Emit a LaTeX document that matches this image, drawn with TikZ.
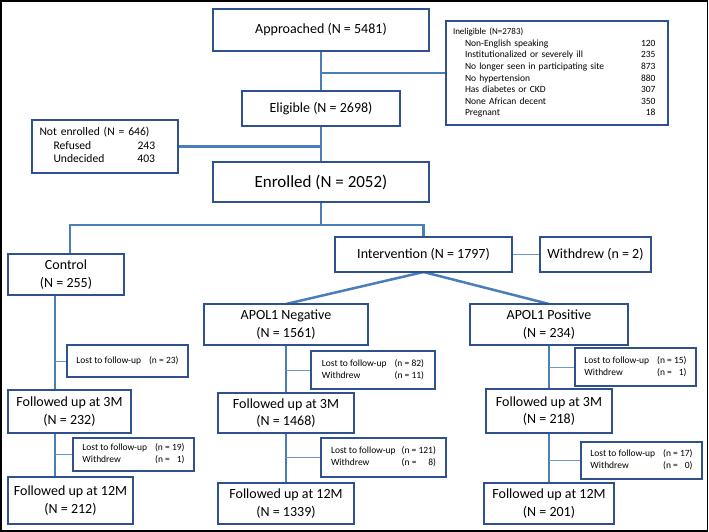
\documentclass[tikz,border=0pt]{standalone}
\usepackage{fontspec}
\setmainfont{Carlito}
\usepackage{xcolor}
\usetikzlibrary{positioning,backgrounds}

\definecolor{boxblue}{RGB}{47,82,143}
\definecolor{lineblue}{RGB}{74,126,187}

\begin{document}
\begin{tikzpicture}[x=1pt, y=1pt,
    box/.style={draw=boxblue, line width=1.8pt, fill=white, align=center, inner sep=2pt, outer sep=0pt,
        font=\fontsize{14pt}{17.5pt}\selectfont},
    lostbox/.style={draw=boxblue, line width=1.8pt, fill=white, inner sep=2pt, outer sep=0pt, minimum width=121pt,
        font=\fontsize{9.5pt}{11.7pt}\selectfont},
    trunk/.style={draw=lineblue, line width=2.5pt},
    branch/.style={draw=lineblue!80, line width=1pt}]

    % Frame
    \useasboundingbox (0,0) rectangle (709,-532);
    \draw[line width=1.8pt] (1,-1) rectangle (707.5,-531);

    % Screening
    \node[box, minimum width=216pt, minimum height=42pt] (approached) at (321,-30) {Approached (N = 5481)};
    \node[box, below=40pt of approached, minimum width=158pt, minimum height=35pt] (eligible) {Eligible (N = 2698)};
    \node[box, right=17pt of approached.north east, anchor=north west, yshift=-12pt, text width=208pt, inner xsep=7pt,
        minimum height=104pt, align=left, font=\fontsize{9.5pt}{11.6pt}\selectfont] (ineligible) {%
        \begin{tabular}{@{\hspace{12pt}}p{176pt}@{}r@{}}
        \multicolumn{2}{@{}l@{}}{\fontsize{9pt}{11.6pt}\selectfont Ineligible (N=2783)}\\
        Non-English speaking & 120\\
        Institutionalized or severely ill & 235\\
        No longer seen in participating site & 873\\
        No hypertension & 880\\
        Has diabetes or CKD & 307\\
        None African decent & 350\\
        Pregnant & 18
        \end{tabular}};
    \node[box, left=64pt of eligible.west, yshift=-38pt, text width=131pt, inner xsep=7.5pt, minimum height=53pt,
        align=left, font=\fontsize{11.6pt}{13.7pt}\selectfont] (notenrolled) {%
        \begin{tabular}{@{\hspace{14pt}}p{84pt}@{}r@{}}
        \multicolumn{2}{@{}l@{}}{Not enrolled (N = 646)}\\
        Refused & 243\\
        Undecided & 403
        \end{tabular}};
    \node[box, below=36pt of eligible, minimum width=216pt, minimum height=40pt,
        font=\fontsize{17pt}{20pt}\selectfont] (enrolled) {Enrolled (N = 2052)};

    % Arms
    \node[box, below=52pt of enrolled, xshift=-255pt, minimum width=116pt, minimum height=41pt] (control) {Control\\(N = 255)};
    \node[box, below=35pt of enrolled, xshift=102.5pt, minimum width=177pt, minimum height=35pt] (intervention) {Intervention (N = 1797)};
    \node[box, right=28pt of intervention, minimum width=111pt, minimum height=35pt] (withdrew) {Withdrew (n = 2)};
    \node[box, below=32pt of intervention, xshift=-137.5pt, minimum width=164pt, minimum height=41pt] (apolneg) {APOL1 Negative\\(N = 1561)};
    \node[box, below=32pt of intervention, xshift=125.5pt, minimum width=158pt, minimum height=41pt] (apolpos) {APOL1 Positive\\(N = 234)};

    % Follow-up
    \node[box, below=95pt of control, xshift=3.5pt, minimum width=123pt, minimum height=43pt] (ctrl3m) {Followed up at 3M\\(N = 232)};
    \node[box, below=44pt of ctrl3m, xshift=1pt, minimum width=125pt, minimum height=47pt] (ctrl12m) {Followed up at 12M\\(N = 212)};
    \node[box, below=48pt of apolneg, minimum width=136pt, minimum height=40pt] (neg3m) {Followed up at 3M\\(N = 1468)};
    \node[box, below=50pt of neg3m, minimum width=136pt, minimum height=41pt] (neg12m) {Followed up at 12M\\(N = 1339)};
    \node[box, below=44pt of apolpos, minimum width=126pt, minimum height=44pt] (pos3m) {Followed up at 3M\\(N = 218)};
    \node[box, below=50pt of pos3m, minimum width=130pt, minimum height=41pt] (pos12m) {Followed up at 12M\\(N = 201)};

    % Losses
    \node[lostbox, below right=50pt and 59pt of control.south west, minimum height=32pt] (ctrllost1) {%
        \begin{tabular}{@{}l@{\hspace{8pt}}r@{}}Lost to follow-up & (n = 23)\end{tabular}};
    \node[lostbox, below right=5pt and 65pt of ctrl3m.south west, minimum height=33pt] (ctrllost2) {%
        \begin{tabular}{@{}l@{\hspace{8pt}}r@{}}Lost to follow-up & (n = 19)\\Withdrew & (n = \phantom{1}1)\end{tabular}};
    \node[lostbox, below right=6pt and 107pt of apolneg.south west, minimum width=124pt, minimum height=38pt] (neglost1) {%
        \begin{tabular}{@{}l@{\hspace{8pt}}r@{}}Lost to follow-up & (n = 82)\\Withdrew & (n = 11)\end{tabular}};
    \node[lostbox, below right=5pt and 103pt of neg3m.south west, minimum width=125pt, minimum height=39pt] (neglost2) {%
        \begin{tabular}{@{}l@{\hspace{6pt}}r@{}}Lost to follow-up & (n = 121)\\Withdrew & (n = \phantom{12}8)\end{tabular}};
    \node[lostbox, below right=3pt and 105pt of apolpos.south west, minimum height=38pt] (poslost1) {%
        \begin{tabular}{@{}l@{\hspace{8pt}}r@{}}Lost to follow-up & (n = 15)\\Withdrew & (n = \phantom{1}1)\end{tabular}};
    \node[lostbox, below right=9pt and 95pt of pos3m.south west, minimum height=37pt] (poslost2) {%
        \begin{tabular}{@{}l@{\hspace{8pt}}r@{}}Lost to follow-up & (n = 17)\\Withdrew & (n = \phantom{1}0)\end{tabular}};

    \begin{scope}[on background layer]
    % Top links
    \draw[trunk] (approached) -- (eligible);
    \draw[trunk] (ineligible.west) -- (ineligible.west -| approached.south);
    \draw[trunk] (notenrolled.east) -- (notenrolled.east -| eligible.south);
    \draw[trunk] (eligible) -- (enrolled);
    \coordinate[below=23pt of enrolled] (split);
    \draw[trunk] (enrolled) -- (split);
    \draw[trunk] ([xshift=4pt]control.north) |- (split) -| (intervention.north);
    \draw[branch] (intervention) -- (withdrew);
    \draw[trunk] (intervention.south) -- (apolneg.north);
    \draw[trunk] (intervention.south) -- (apolpos.north);

    % Control column
    \coordinate[left=11pt of control.south] (ctrltrunk);
    \draw[trunk] (ctrltrunk) -- (ctrltrunk |- ctrl3m.north);
    \draw[trunk] (ctrl3m.south -| ctrltrunk) -- (ctrl12m.north -| ctrltrunk);
    \draw[branch] (ctrllost1.west -| ctrltrunk) -- (ctrllost1);
    \draw[branch] (ctrllost2.west -| ctrltrunk) -- (ctrllost2);

    % Negative column
    \draw[trunk] (apolneg) -- (apolneg |- neg3m.north);
    \draw[trunk] (neg3m) -- (neg3m |- neg12m.north);
    \draw[branch] (neglost1.west -| apolneg) -- (neglost1);
    \draw[branch] (neglost2.west -| apolneg) -- (neglost2);

    % Positive column
    \draw[trunk] (apolpos) -- (pos3m);
    \draw[trunk] (pos3m) -- (pos12m);
    \draw[branch] (poslost1.west -| apolpos) -- (poslost1);
    \draw[branch] (poslost2.west -| apolpos) -- (poslost2);
    \end{scope}

\end{tikzpicture}
\end{document}
